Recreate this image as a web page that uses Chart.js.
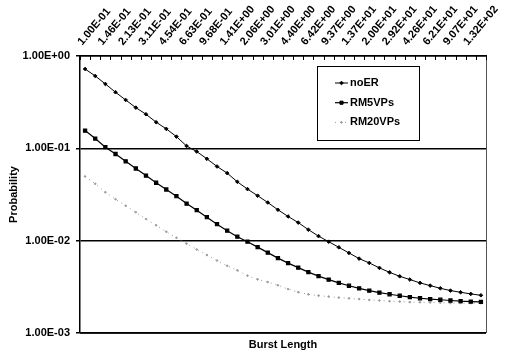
<!DOCTYPE html>
<html>
<head>
<meta charset="utf-8">
<script src="https://cdn.jsdelivr.net/npm/chart.js@4/dist/chart.umd.min.js"></script>
<style>
  html, body { margin: 0; padding: 0; background: #fff; }
</style>
</head>
<body>
<canvas id="chart" width="514" height="359"></canvas>
<script>
// Burst length categories (every other one is labelled on the axis)
const burstLengths = [
  '1.00E-01', '1.21E-01', '1.46E-01', '1.76E-01', '2.13E-01', '2.57E-01', '3.11E-01', '3.76E-01',
  '4.54E-01', '5.49E-01', '6.63E-01', '8.01E-01', '9.68E-01', '1.17E+00', '1.41E+00', '1.71E+00',
  '2.06E+00', '2.49E+00', '3.01E+00', '3.64E+00', '4.40E+00', '5.31E+00', '6.42E+00', '7.76E+00',
  '9.37E+00', '1.13E+01', '1.37E+01', '1.65E+01', '2.00E+01', '2.41E+01', '2.92E+01', '3.52E+01',
  '4.26E+01', '5.15E+01', '6.21E+01', '7.51E+01', '9.07E+01', '1.10E+02', '1.32E+02', '1.60E+02'
];

const noER = [
  0.723, 0.608, 0.498, 0.405, 0.334, 0.276, 0.234, 0.192, 0.1625, 0.134,
  0.106, 0.0923, 0.0770, 0.0636, 0.0539, 0.0434, 0.0362, 0.0307, 0.0259, 0.0216,
  0.0183, 0.0157, 0.01315, 0.0112, 0.00975, 0.00847, 0.00736, 0.00639, 0.00574, 0.00507,
  0.00454, 0.00411, 0.00379, 0.00349, 0.00326, 0.00305, 0.00288, 0.00276, 0.00265, 0.00256
];

const rm5VPs = [
  0.1557, 0.1276, 0.103, 0.0868, 0.0724, 0.0605, 0.0507, 0.0424, 0.0358, 0.0303,
  0.0252, 0.0214, 0.01795, 0.01508, 0.01283, 0.01104, 0.00975, 0.00851, 0.00742, 0.00647,
  0.00571, 0.00511, 0.00456, 0.00413, 0.00379, 0.00349, 0.00325, 0.00304, 0.00288, 0.00274,
  0.00263, 0.00253, 0.00245, 0.00238, 0.00233, 0.00229, 0.00225, 0.00221, 0.00219, 0.00217
];

const rm20VPs = [
  0.0496, 0.0413, 0.0334, 0.0281, 0.0239, 0.0203, 0.01716, 0.01467, 0.01251, 0.01075,
  0.00928, 0.00803, 0.00699, 0.00609, 0.00535, 0.00477, 0.00418, 0.00381, 0.00356, 0.00329,
  0.00299, 0.00277, 0.00262, 0.00254, 0.00248, 0.00242, 0.00237, 0.00233, 0.00228, 0.00225,
  0.00221, 0.00219, 0.00216, 0.00215, 0.00214, 0.00213, 0.00211, 0.00211, 0.0021, 0.0021
];

const yTickValues = [1, 0.1, 0.01, 0.001];
const yTickLabels = ['1.00E+00', '1.00E-01', '1.00E-02', '1.00E-03'];

const FONT = "'Liberation Sans', Arial, sans-serif";

// box round the plot + small inward tick marks on the top axis
const framePlugin = {
  id: 'frame',
  afterDatasetsDraw(chart) {
    const { ctx, chartArea: a, scales } = chart;
    const xs = scales.x;
    ctx.save();
    ctx.strokeStyle = '#000';
    ctx.lineWidth = 1.5;
    ctx.beginPath();
    ctx.moveTo(a.left, a.bottom);
    ctx.lineTo(a.right, a.bottom);
    ctx.stroke();
    ctx.strokeStyle = '#555';
    ctx.lineWidth = 1;
    ctx.beginPath();
    ctx.moveTo(a.right + 0.5, a.top);
    ctx.lineTo(a.right + 0.5, a.bottom);
    ctx.stroke();
    // tick marks between categories, pointing into the plot
    const step = xs.getPixelForValue(1) - xs.getPixelForValue(0);
    ctx.strokeStyle = '#000';
    ctx.beginPath();
    for (let i = 0; i <= burstLengths.length; i++) {
      const x = Math.round(xs.getPixelForValue(0) - step / 2 + i * step) + 0.5;
      ctx.moveTo(x, a.top);
      ctx.lineTo(x, a.top + 4);
    }
    ctx.stroke();
    ctx.restore();
  }
};

// legend box inside the plot, and the axis title under it
const legendBoxPlugin = {
  id: 'legendBox',
  afterDraw(chart) {
    const { ctx, chartArea: a } = chart;
    ctx.save();
    ctx.fillStyle = '#fff';
    ctx.fillRect(317, 66, 102, 74);
    ctx.strokeStyle = '#000';
    ctx.lineWidth = 1;
    ctx.strokeRect(317.5, 66.5, 102, 74);

    chart.data.datasets.forEach((ds, i) => {
      const y = 83 + i * 19.7;
      ctx.strokeStyle = ds.borderColor;
      ctx.lineWidth = ds.borderWidth;
      ctx.setLineDash(ds.borderDash || []);
      ctx.beginPath();
      ctx.moveTo(335, y);
      ctx.lineTo(348, y);
      ctx.stroke();
      ctx.setLineDash([]);
      ctx.fillStyle = ds.pointBackgroundColor;
      ctx.strokeStyle = ds.pointBorderColor;
      ctx.lineWidth = 1;
      Chart.helpers.drawPoint(ctx, {
        pointStyle: ds.pointStyle, radius: ds.pointRadius, rotation: 0, borderWidth: 1
      }, 341.5, y);
      ctx.fillStyle = '#000';
      ctx.font = 'bold 11px ' + FONT;
      ctx.textBaseline = 'middle';
      ctx.textAlign = 'left';
      ctx.fillText(ds.label, 350, y);
    });

    ctx.font = 'bold 11px ' + FONT;
    ctx.textAlign = 'center';
    ctx.textBaseline = 'middle';
    ctx.fillStyle = '#000';
    ctx.fillText('Burst Length', (a.left + a.right) / 2, 345);
    ctx.restore();
  }
};

new Chart(document.getElementById('chart'), {
  type: 'line',
  data: {
    labels: burstLengths,
    datasets: [
      {
        label: 'noER',
        data: noER,
        borderColor: '#000',
        borderWidth: 1,
        pointStyle: 'rectRot',
        pointRadius: 1.8,
        pointBackgroundColor: '#000',
        pointBorderColor: '#000',
        tension: 0
      },
      {
        label: 'RM5VPs',
        data: rm5VPs,
        borderColor: '#000',
        borderWidth: 1.2,
        pointStyle: 'rect',
        pointRadius: 2.2,
        pointBackgroundColor: '#000',
        pointBorderColor: '#000',
        tension: 0
      },
      {
        label: 'RM20VPs',
        data: rm20VPs,
        borderColor: '#999',
        borderWidth: 1,
        borderDash: [1, 4],
        pointStyle: 'circle',
        pointRadius: 0.8,
        pointBackgroundColor: '#999',
        pointBorderColor: '#999',
        tension: 0
      }
    ]
  },
  options: {
    responsive: false,
    animation: false,
    devicePixelRatio: 1,
    layout: { padding: { left: 0, right: 28, top: 0, bottom: 26 } },
    plugins: {
      legend: { display: false },
      tooltip: { enabled: false }
    },
    scales: {
      x: {
        type: 'category',
        position: 'top',
        offset: true,
        afterFit: (scale) => { scale.height = 56; },
        grid: { drawOnChartArea: false, drawTicks: false },
        border: { display: true, color: '#000', width: 1.5 },
        ticks: {
          autoSkip: false,
          minRotation: 50,
          maxRotation: 50,
          padding: 8,
          labelOffset: 5,
          color: '#000',
          font: { family: FONT, size: 11, weight: 'bold' },
          callback: (value, index) => (index % 2 === 0 ? burstLengths[index] : '')
        }
      },
      y: {
        type: 'logarithmic',
        min: 0.001,
        max: 1,
        afterFit: (scale) => { scale.width = 80; },
        afterBuildTicks: (scale) => {
          scale.ticks = yTickValues.map(v => ({ value: v }));
        },
        grid: { color: '#000', lineWidth: 1.5, tickLength: 4 },
        border: { display: true, color: '#000', width: 1.5 },
        ticks: {
          padding: 6,
          color: '#000',
          font: { family: FONT, size: 11, weight: 'bold' },
          callback: (value) => yTickLabels[yTickValues.indexOf(value)]
        },
        title: {
          display: true,
          text: 'Probability',
          color: '#000',
          padding: { top: 7, bottom: 0 },
          font: { family: FONT, size: 11, weight: 'bold' }
        }
      }
    }
  },
  plugins: [framePlugin, legendBoxPlugin]
});
</script>
</body>
</html>
